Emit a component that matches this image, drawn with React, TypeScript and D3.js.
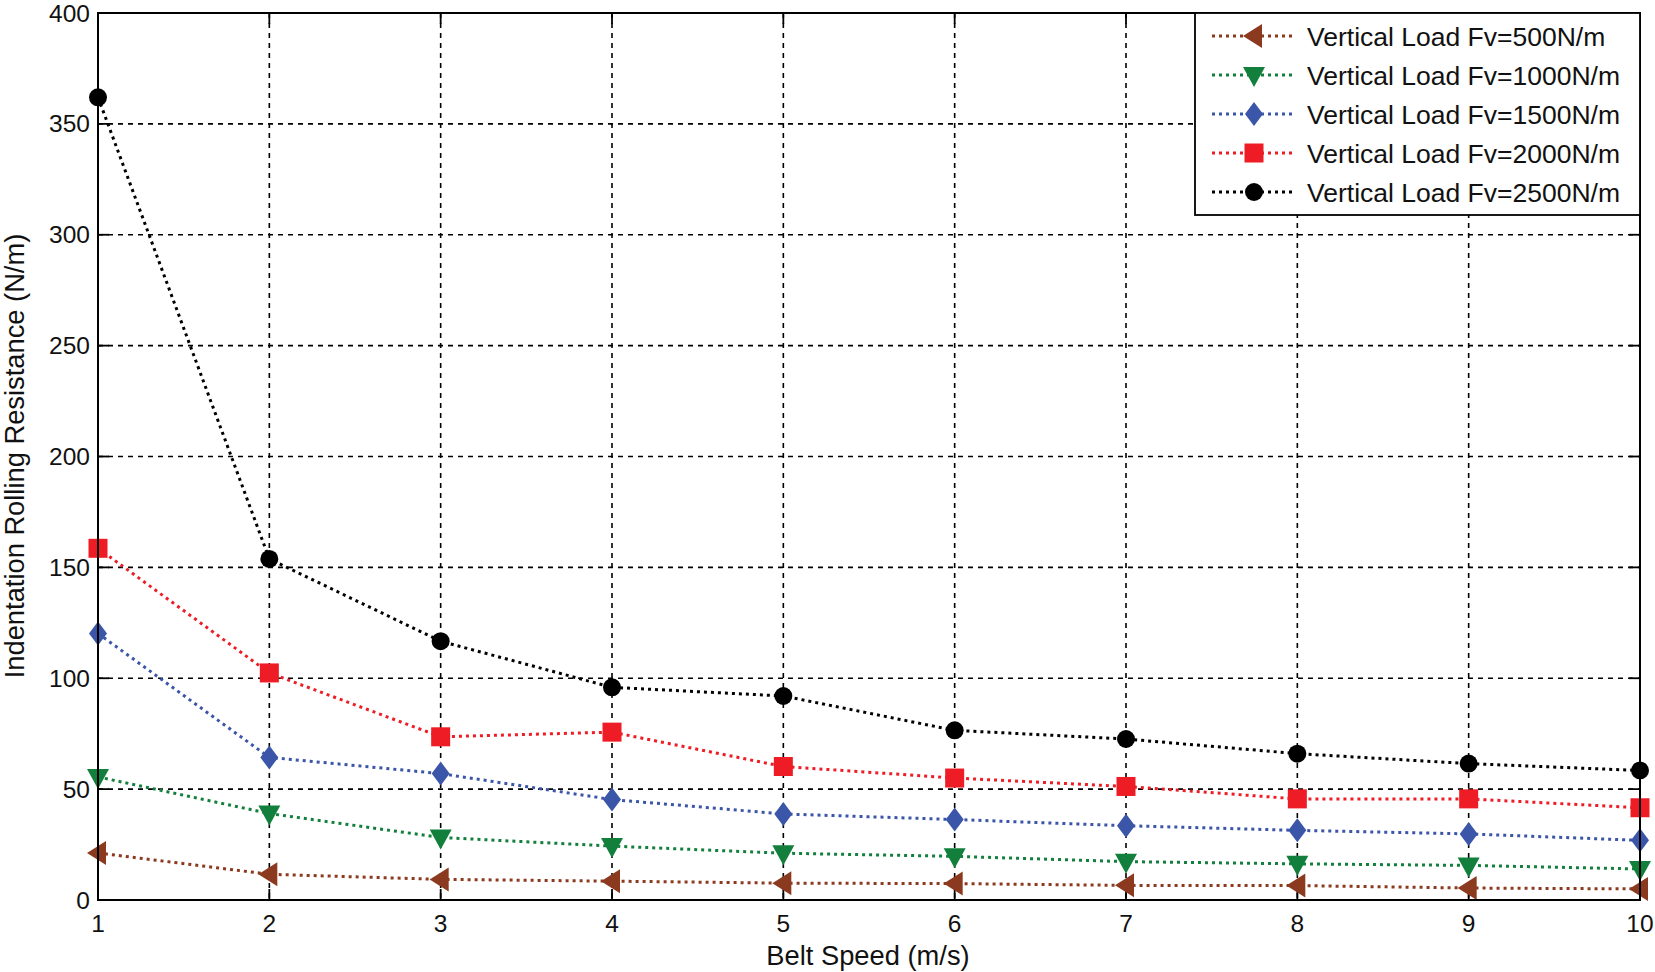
import React from "react";
import * as d3 from "d3";

const speeds = [1, 2, 3, 4, 5, 6, 7, 8, 9, 10];
const fv500 = [21.2, 11.6, 9.3, 8.5, 7.6, 7.4, 6.6, 6.5, 5.4, 5.0];
const fv1000 = [55.5, 39.0, 28.2, 24.3, 21.1, 19.7, 17.3, 16.3, 15.6, 14.0];
const fv1500 = [120.2, 64.3, 57.0, 45.3, 38.8, 36.3, 33.5, 31.4, 29.8, 26.9];
const fv2000 = [158.6, 102.4, 73.6, 75.7, 60.2, 55.0, 51.2, 45.6, 45.6, 41.6];
const fv2500 = [362.0, 153.8, 116.7, 95.9, 92.0, 76.5, 72.6, 66.0, 61.5, 58.4];
const yTicks = [0, 50, 100, 150, 200, 250, 300, 350, 400];
const seriesNames = [
  "Vertical Load Fv=500N/m",
  "Vertical Load Fv=1000N/m",
  "Vertical Load Fv=1500N/m",
  "Vertical Load Fv=2000N/m",
  "Vertical Load Fv=2500N/m",
];
const seriesColors = ["#8c3a1f", "#12803c", "#3b55a8", "#ee1c25", "#000000"];
const seriesMarkers = ["triLeft", "triDown", "diamond", "square", "circle"];
const seriesValues = [fv500, fv1000, fv1500, fv2000, fv2500];

const W = 1655;
const H = 972;
const left = 98;
const right = 1640;
const top = 13;
const bottom = 900;
const font = "'Liberation Sans', Arial, sans-serif";

function Marker({ type, x, y, color }: { type: string; x: number; y: number; color: string }) {
  if (type === "circle") return <circle cx={x} cy={y} r={9} fill={color} />;
  if (type === "square") return <rect x={x - 9.5} y={y - 9.5} width={19} height={19} fill={color} />;
  if (type === "diamond")
    return <path d={`M${x},${y - 12}L${x + 9},${y}L${x},${y + 12}L${x - 9},${y}Z`} fill={color} />;
  if (type === "triDown")
    return <path d={`M${x - 11},${y - 8}L${x + 11},${y - 8}L${x},${y + 12}Z`} fill={color} />;
  return <path d={`M${x - 11},${y}L${x + 8},${y - 12}L${x + 8},${y + 12}Z`} fill={color} />;
}

export default function App() {
  const x = d3.scaleLinear().domain([1, 10]).range([left, right]);
  const y = d3.scaleLinear().domain([0, 400]).range([bottom, top]);
  const line = d3
    .line<number>()
    .x((_, i) => x(speeds[i]))
    .y((d) => y(d));

  const legLeft = 1195;
  const legTop = top;
  const legBottom = 215;
  const rowY = [36, 75, 114, 153, 192];

  return (
    <svg
      width={W}
      height={H}
      style={{ position: "absolute", left: 0, top: 0, background: "#fff" }}
      fontFamily={font}
    >
      <rect x={0} y={0} width={W} height={H} fill="#fff" />
      {/* grid */}
      {speeds.slice(1, -1).map((s) => (
        <line key={"gx" + s} x1={x(s)} x2={x(s)} y1={top} y2={bottom} stroke="#000" strokeWidth={1.6} strokeDasharray="5,5" />
      ))}
      {yTicks.slice(1, -1).map((t) => (
        <line key={"gy" + t} x1={left} x2={right} y1={y(t)} y2={y(t)} stroke="#000" strokeWidth={1.6} strokeDasharray="5,5" />
      ))}
      {/* ticks */}
      {speeds.map((s) => (
        <g key={"tx" + s}>
          <line x1={x(s)} x2={x(s)} y1={bottom} y2={bottom - 11} stroke="#000" strokeWidth={1.8} />
          <line x1={x(s)} x2={x(s)} y1={top} y2={top + 11} stroke="#000" strokeWidth={1.8} />
          <text x={x(s)} y={932} textAnchor="middle" fontSize={24.5} fill="#111">
            {s}
          </text>
        </g>
      ))}
      {yTicks.map((t) => (
        <g key={"ty" + t}>
          <line x1={left} x2={left + 11} y1={y(t)} y2={y(t)} stroke="#000" strokeWidth={1.8} />
          <line x1={right} x2={right - 11} y1={y(t)} y2={y(t)} stroke="#000" strokeWidth={1.8} />
          <text x={90} y={y(t) + 8.5} textAnchor="end" fontSize={24.5} fill="#111">
            {t}
          </text>
        </g>
      ))}
      {/* series */}
      {seriesValues.map((vals, si) => (
        <g key={"s" + si}>
          <path
            d={line(vals) || ""}
            fill="none"
            stroke={seriesColors[si]}
            strokeWidth={3}
            strokeDasharray="3,4"
          />
          {vals.map((v, i) => (
            <Marker key={i} type={seriesMarkers[si]} x={x(speeds[i])} y={y(v)} color={seriesColors[si]} />
          ))}
        </g>
      ))}
      {/* axes box */}
      <rect x={left} y={top} width={right - left} height={bottom - top} fill="none" stroke="#000" strokeWidth={2} />
      {/* legend */}
      <rect x={legLeft} y={legTop} width={right - legLeft} height={legBottom - legTop} fill="#fff" stroke="#000" strokeWidth={1.8} />
      {seriesNames.map((n, si) => (
        <g key={"l" + si}>
          <line x1={1212} x2={1294} y1={rowY[si]} y2={rowY[si]} stroke={seriesColors[si]} strokeWidth={3} strokeDasharray="3,4" />
          <Marker type={seriesMarkers[si]} x={1254} y={rowY[si]} color={seriesColors[si]} />
          <text x={1307} y={rowY[si] + 9.5} fontSize={26.5} fill="#111">
            {n}
          </text>
        </g>
      ))}
      {/* axis titles */}
      <text x={868} y={965} textAnchor="middle" fontSize={27.3} fill="#111">
        Belt Speed (m/s)
      </text>
      <text
        transform={`translate(24,456) rotate(-90)`}
        textAnchor="middle"
        fontSize={27.3}
        fill="#111"
      >
        Indentation Rolling Resistance (N/m)
      </text>
    </svg>
  );
}
